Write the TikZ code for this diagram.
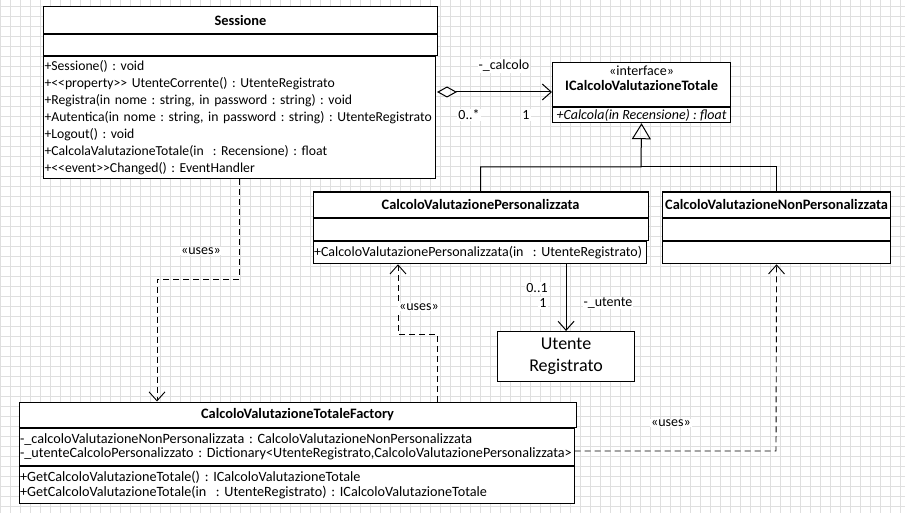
\documentclass[tikz,border=0pt]{standalone}
\usepackage{fontspec}
\setmainfont{Carlito}
\usepackage{tikz}
\usetikzlibrary{arrows.meta,shapes,calc,backgrounds}
\usetikzlibrary{positioning}
\frenchspacing
\tikzset{
    %Define standard text
    every node/.style={font=\fontsize{14}{17}\selectfont},
    gridline/.style={gray!25, line width=0.8pt},
    % Define class compartment styles
    cls/.style={
           draw,
           line width=1.1pt,
           fill=white,
           inner sep=1pt,
           anchor=north west,
           },
    clst/.style={
           cls,
           font=\fontsize{14.4}{17}\selectfont\bfseries,
           },
    clsl/.style={
           cls,
           align=left,
           text width=#1,
           },
    lbl/.style={
           fill=white,
           inner sep=1pt,
           },
    % Define arrow style
    dep/.style={
           -{Straight Barb[length=9pt,width=16pt]},
           line width=0.9pt,
           dash pattern=on 6pt off 4pt,
           },
    assoc/.style={
           -{Straight Barb[length=9pt,width=16pt]},
           line width=1pt,
           },
    aggr/.style={
           {Diamond[open,length=20pt,width=11pt,line width=1pt]}-{Straight Barb[length=9pt,width=16pt]},
           line width=1pt,
           },
    gen/.style={
           -{Triangle[open,length=16pt,width=19pt,line width=1pt]},
           line width=1pt,
           }
}

\begin{document}
\begin{tikzpicture}[x=1pt,y=-1pt]
  	\useasboundingbox (0,0) rectangle (905,513);
  	\fill[white] (0,0) rectangle (905,513);
  	\foreach \i in {0,...,90} \draw[gridline] (\i*10+0.7,0) -- (\i*10+0.7,513);
  	\foreach \i in {0,...,50} \draw[gridline] (0,\i*10+6.7) -- (905,\i*10+6.7);
  	% Sessione
  	\node[clst, minimum width=394pt, minimum height=27pt] (sesT) at (43,6) {Sessione};
  	\node[cls, minimum width=394pt, minimum height=21pt] (sesA) at (sesT.south west) {};
  	\node[clsl=390pt, minimum height=122pt, font=\fontsize{13.7}{16.9}\selectfont] (sesM) at (sesA.south west) {+Sessione() : void\\
  		+<{}<property>{}> UtenteCorrente() : UtenteRegistrato\\
  		+Registra(in nome : string, in password : string) : void\\
  		+Autentica(in nome : string, in password : string) : UtenteRegistrato\\
  		+Logout() : void\\
  		+CalcolaValutazioneTotale(in~~: Recensione) : float\\
  		+<{}<event>{}>Changed() : EventHandler};
  	% interfaccia
  	\node[cls, minimum width=178pt, minimum height=44pt, align=center,
  		font=\fontsize{14}{15}\selectfont] (ifT) at (552,62) {«interface»\\{\fontsize{14.4}{15}\selectfont\bfseries ICalcoloValutazioneTotale}\\[-3pt]};
  	\node[cls, minimum width=178pt, minimum height=15pt] (ifM) at (ifT.south west) {\itshape +Calcola(in Recensione) : float};
  	% CalcoloValutazionePersonalizzata
  	\node[clst, minimum width=335pt, minimum height=25.5pt] (perT) at (312.5,191.5) {CalcoloValutazionePersonalizzata};
  	\node[cls, minimum width=335pt, minimum height=22pt] (perA) at (perT.south west) {};
  	\node[clsl=331pt, minimum height=22pt] (perM) at (perA.south west) {+CalcoloValutazionePersonalizzata(in~~: UtenteRegistrato)};
  	% CalcoloValutazioneNonPersonalizzata
  	\node[clst, minimum width=228pt, minimum height=25.5pt] (nonT) at (662,191.5) {CalcoloValutazioneNonPersonalizzata};
  	\node[cls, minimum width=228pt, minimum height=22pt] (nonA) at (nonT.south west) {};
  	\node[cls, minimum width=228pt, minimum height=22pt] (nonM) at (nonA.south west) {};
  	% UtenteRegistrato
  	\node[cls, minimum width=137pt, minimum height=50pt, align=center,
  		font=\fontsize{18}{22}\selectfont] (ute) at (497,331) {Utente\\Registrato};
  	% CalcoloValutazioneTotaleFactory
  	\node[clst, minimum width=557pt, minimum height=25pt] (facT) at (18.5,401.5) {CalcoloValutazioneTotaleFactory};
  	\node[clsl=553pt, minimum height=37.5pt, font=\fontsize{14.2}{14.5}\selectfont] (facA) at (facT.south west) {-\_calcoloValutazioneNonPersonalizzata : CalcoloValutazioneNonPersonalizzata\\
  		-\_utenteCalcoloPersonalizzato : Dictionary<UtenteRegistrato,CalcoloValutazionePersonalizzata>};
  	\node[clsl=553pt, minimum height=36.5pt, font=\fontsize{14.2}{14.5}\selectfont] (facM) at (facA.south west) {+GetCalcoloValutazioneTotale() : ICalcoloValutazioneTotale\\
  		+GetCalcoloValutazioneTotale(in~~: UtenteRegistrato) : ICalcoloValutazioneTotale};
  	% punti di piega
  	\coordinate (g1) at (641,167);
  	\coordinate (u1) at (157,279);
  	\coordinate (u2) at (437,334);
  	\coordinate (u3) at (398,334);
  	\coordinate (u4) at (776,451);
  	\coordinate (a1) at (437,92);
  	% connettori
  	\draw [aggr] (a1) -- (a1 -| ifT.west);
  	\node[lbl] (l1) at (504,66) {-\_calcolo};
  	\node[lbl] (l2) at (469,115) {0..*};
  	\node[lbl] (l3) at (526,115) {1};
  	\draw [gen] (perT.north) |- (g1) -- (ifM.south);
  	\draw [line width=1pt] (nonT.north) |- (g1);
  	\draw [assoc] (perM.south -| ute.north) -- (ute.north);
  	\node[lbl] (l4) at (537,288) {0..1};
  	\node[lbl] (l5) at (543,303) {1};
  	\node[lbl] (l6) at (608,303) {-\_utente};
  	\draw [dep] (sesM.south) |- (u1) -- (u1 |- facT.north);
  	\node[lbl] (l7) at (201,251) {«uses»};
  	\draw [dep] (u2 |- facT.north) -- (u2) -- (u3) -- (u3 |- perM.south);
  	\node[lbl] (l8) at (419,307) {«uses»};
  	\draw [dep] (u4 -| facA.east) -- (u4) -- (nonM.south);
  	\node[lbl] (l9) at (671,423) {«uses»};
\end{tikzpicture}
\end{document}
